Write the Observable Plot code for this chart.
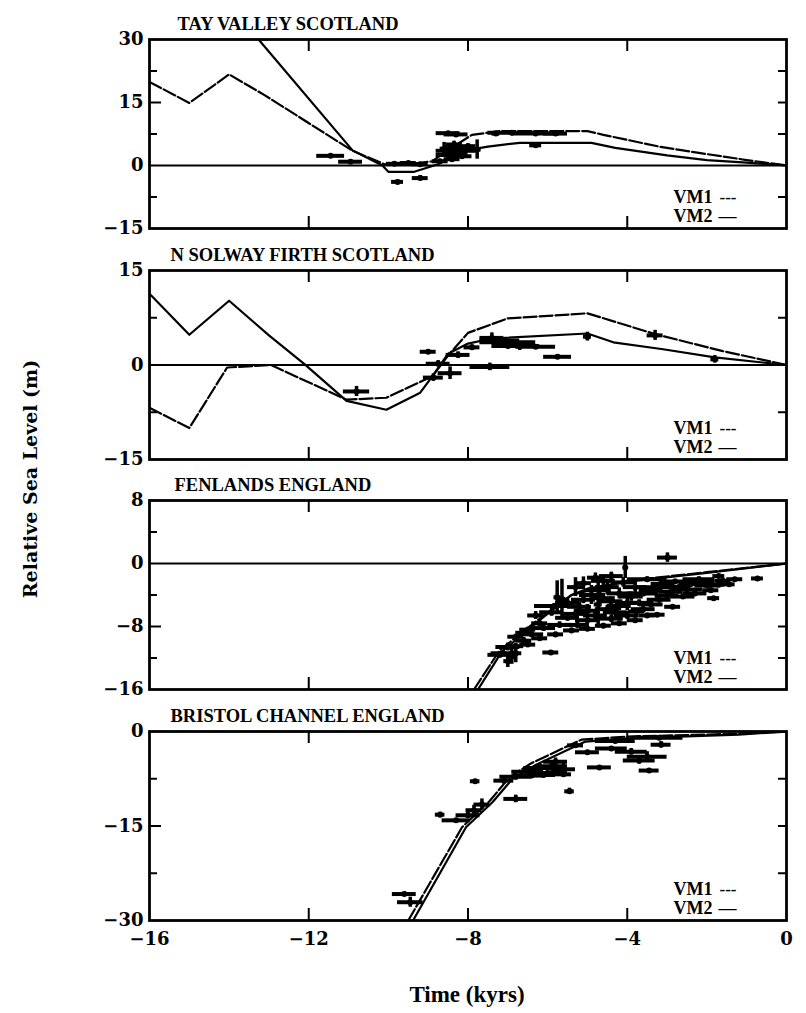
<!DOCTYPE html>
<html>
<head>
<meta charset="utf-8">
<script src="https://cdn.jsdelivr.net/npm/d3@7"></script>
<script src="https://cdn.jsdelivr.net/npm/@observablehq/plot@0.6"></script>
<style>
  html, body { margin: 0; padding: 0; background: #fff; }
  #wrap { position: relative; width: 806px; height: 1013px; background: #fff; overflow: hidden; }
  .panel { position: absolute; left: 0; }
  .panel svg { overflow: visible; }
  #ylab { position: absolute; left: 30px; top: 479px; transform: translate(-50%, -50%) rotate(-90deg);
          font-family: "DejaVu Serif"; font-weight: bold; font-size: 19px; white-space: nowrap; color: #000; }
  #xlab { position: absolute; left: 467px; top: 995px; transform: translate(-50%, -50%);
          font-family: "Liberation Serif"; font-weight: bold; font-size: 23px; white-space: nowrap; color: #000; }
</style>
</head>
<body>
<div id="wrap">
  <div id="ylab">Relative Sea Level (m)</div>
  <div id="xlab">Time (kyrs)</div>
</div>
<script>
// ---------- data ----------
const xTickLabels = [-16, -12, -8, -4, 0];
const xInnerTicks = [-12, -8, -4];

// Panel 1: Tay Valley
const tayTitle = "TAY VALLEY SCOTLAND";
const tayDomain = [-15, 30];
const tayLabels = [30, 15, 0, -15];
const tayMajor = [15];
const tayMinor = [22.5, 7.5, -7.5];
const tayVM1T = [-16, -15, -14, -13.1, -10.9, -10.1, -9.3, -8.9, -8.5, -7.9, -7.2, -5.0, -4.6, -3.2, -2.2, -1.0, 0];
const tayVM1V = [19.9, 14.9, 21.7, 16.7, 3.5, 0.3, 0.5, 1.0, 3.7, 7.3, 8.2, 8.2, 7.3, 4.5, 3.0, 1.3, 0];
const tayVM2T = [-13.26, -10.9, -10.15, -10.0, -9.35, -8.75, -8.25, -7.5, -6.7, -4.9, -4.3, -3.0, -2.0, -1.0, 0];
const tayVM2V = [30, 3.6, 0, -1.5, -1.5, 0.3, 3.3, 4.5, 5.4, 5.4, 4.2, 2.4, 1.3, 0.7, 0];
// observations: [time, level, half-width time, half-height level]
const tayObs = [
  [-11.45, 2.3, 0.35, 0.3], [-10.95, 0.9, 0.3, 0.3], [-9.77, -3.9, 0.15, 0.4], [-9.2, -3.0, 0.2, 0.6],
  [-9.85, 0.4, 0.2, 0.3], [-9.5, 0.6, 0.2, 0.3], [-9.2, 0.3, 0.2, 0.3], [-8.5, 7.7, 0.3, 0.3],
  [-8.3, 7.4, 0.3, 0.3], [-8.6, 4.0, 0.1, 1.5], [-8.5, 2.5, 0.3, 0.8], [-8.3, 3.0, 0.3, 0.8],
  [-8.2, 4.2, 0.3, 1.2], [-8.1, 3.5, 0.3, 0.7], [-8.0, 4.6, 0.2, 0.6], [-8.4, 1.5, 0.2, 0.6],
  [-7.77, 3.8, 0.1, 2.3], [-7.3, 7.6, 0.1, 0.4], [-6.9, 7.8, 0.6, 0.3], [-6.3, 7.6, 0.6, 0.3],
  [-5.8, 7.6, 0.3, 0.3], [-6.3, 4.8, 0.15, 0.5], [-8.7, 1.0, 0.2, 0.4], [-8.55, 3.5, 0.25, 1.0],
  [-8.35, 5.0, 0.2, 0.8], [-8.15, 2.2, 0.25, 0.6]
];

// Panel 2: N Solway Firth
const solTitle = "N SOLWAY FIRTH SCOTLAND";
const solDomain = [-15, 15];
const solLabels = [15, 0, -15];
const solMajor = [];
const solMinor = [7.5, -7.5];
const solVM1T = [-16, -15, -14.05, -12.95, -11.05, -10.05, -8.9, -8.5, -8.0, -7.0, -5.0, -3.3, -1.6, 0];
const solVM1V = [-6.8, -10, -0.4, 0, -5.5, -5.2, -1.8, 1.5, 5.1, 7.4, 8.2, 4.9, 2.2, 0];
const solVM2T = [-16, -15, -14, -13, -12.1, -11.05, -10.05, -9.2, -8.85, -8.5, -8.0, -7.4, -5.0, -4.35, -3.1, -1.8, -0.6, 0];
const solVM2V = [11.3, 4.8, 10.2, 4.7, 0.1, -5.7, -7.1, -4.4, -1.4, 1.8, 3.4, 4.2, 5.0, 3.6, 2.5, 1.2, 0.4, 0];
const solObs = [
  [-10.8, -4.2, 0.33, 0.8], [-9.0, 2.1, 0.2, 0.2], [-8.87, -2.0, 0.25, 0.6], [-8.75, 0.2, 0.3, 0.5],
  [-8.45, -1.3, 0.3, 1.0], [-8.25, 1.6, 0.3, 0.5], [-7.9, 2.8, 0.2, 0.4], [-7.4, 4.3, 0.3, 0.8],
  [-7.2, 3.9, 0.5, 0.5], [-7.0, 3.0, 0.4, 0.4], [-6.7, 3.0, 0.5, 0.7], [-6.3, 2.9, 0.5, 0.3],
  [-5.75, 1.3, 0.35, 0.2], [-7.45, -0.3, 0.5, 0.6], [-5.0, 4.5, 0.1, 0.7], [-3.3, 4.7, 0.2, 0.8],
  [-1.8, 0.9, 0.1, 0.6], [-7.0, 3.6, 0.7, 0.3]
];

// Panel 3: Fenlands
const fenTitle = "FENLANDS ENGLAND";
const fenDomain = [-16, 8];
const fenLabels = [8, 0, -8, -16];
const fenMajor = [-8];
const fenMinor = [4, -4, -12];
const fenVM1T = [-7.85, -7.2, -6.2, -5.4, -4.0, -2.0, 0];
const fenVM1V = [-16, -11.0, -7.0, -4.0, -2.2, -1.1, 0];
const fenVM2T = [-7.75, -7.15, -6.2, -5.4, -5.0, -4.0, -2.0, 0];
const fenVM2V = [-16, -11.2, -7.2, -4.0, -3.2, -2.3, -1.2, 0];
const fenObs = [
  [-2.99, 0.75, 0.25, 0.6], [-0.73, -1.9, 0.15, 0.2], [-1.7, -1.6, 0.15, 0.2], [-1.7, -2.7, 0.15, 0.2],
  [-1.44, -2.65, 0.15, 0.2], [-1.83, -4.4, 0.15, 0.2], [-2.86, -5.5, 0.2, 0.2], [-3.25, -6.5, 0.2, 0.2],
  [-3.77, -6.1, 0.2, 0.2], [-5.92, -11.3, 0.2, 0.2], [-6.8, -11.4, 0.15, 1.2], [-7.12, -11.4, 0.3, 0.3],
  [-6.8, -10.5, 0.2, 0.3], [-5.64, -4.5, 0.1, 2.5], [-5.83, -5.4, 0.5, 0.3], [-5.5, -6.9, 0.3, 0.4],
  [-5.25, -7.8, 0.3, 0.4], [-4.73, -5.2, 0.1, 3.0], [-4.41, -4.8, 0.3, 0.5], [-4.05, -0.5, 0.05, 1.4],
  [-3.5, -2.0, 0.5, 0.3], [-2.8, -2.3, 0.4, 0.3], [-2.2, -2.0, 0.4, 0.3], [-3.2, -3.0, 0.5, 0.3],
  [-2.5, -3.3, 0.4, 0.3], [-2.0, -2.8, 0.3, 0.3], [-3.6, -3.8, 0.4, 0.4], [-3.0, -4.1, 0.3, 0.3],
  [-6.5, -10.3, 0.2, 0.3], [-6.2, -9.5, 0.2, 0.3], [-5.8, -9.0, 0.2, 0.3], [-5.4, -8.5, 0.2, 0.3],
  [-5.0, -8.3, 0.2, 0.3], [-4.6, -7.9, 0.2, 0.3], [-4.2, -7.6, 0.2, 0.3], [-3.8, -7.2, 0.2, 0.3],
  [-3.5, -6.6, 0.2, 0.3], [-6.8, -9.3, 0.2, 0.3], [-6.5, -8.4, 0.2, 0.3], [-6.2, -7.6, 0.2, 0.3],
  [-5.76, -4.3, 0.08, 2.1], [-5.0, -6.0, 0.3, 0.8], [-4.9, -4.0, 0.3, 1.2], [-4.5, -3.0, 0.3, 1.0],
  [-4.3, -6.2, 0.3, 0.8], [-4.0, -5.0, 0.3, 1.0], [-3.8, -3.0, 0.3, 0.8], [-4.6, -2.2, 0.3, 0.6],
  [-5.2, -5.5, 0.3, 0.6], [-4.2, -3.8, 0.3, 0.7], [-3.4, -5.2, 0.3, 0.4], [-2.6, -4.2, 0.3, 0.3],
  [-2.3, -3.8, 0.3, 0.3], [-1.9, -3.4, 0.2, 0.3], [-6.9, -11.8, 0.1, 1.0],
  [-5.9, -6.2, 0.3, 0.5], [-6.1, -8.2, 0.3, 0.4], [-6.4, -9.0, 0.3, 0.4], [-6.6, -9.8, 0.2, 0.4],
  [-7.0, -10.6, 0.3, 0.5], [-7.2, -11.6, 0.3, 0.4], [-7.0, -12.4, 0.1, 0.8], [-5.3, -3.0, 0.2, 1.2],
  [-5.1, -2.5, 0.2, 0.8], [-4.8, -1.8, 0.2, 0.6], [-4.4, -1.6, 0.3, 0.5], [-4.1, -2.4, 0.3, 0.6],
  [-3.9, -4.2, 0.3, 0.6], [-4.6, -4.4, 0.3, 0.6], [-4.8, -6.6, 0.3, 0.6], [-4.4, -7.0, 0.3, 0.5],
  [-4.0, -6.6, 0.3, 0.5], [-3.6, -5.8, 0.3, 0.5], [-3.2, -4.6, 0.3, 0.4], [-2.9, -3.6, 0.3, 0.3],
  [-2.4, -2.6, 0.3, 0.3], [-1.6, -2.2, 0.2, 0.2], [-5.5, -5.0, 0.3, 0.6], [-5.3, -6.4, 0.3, 0.6],
  [-5.7, -7.8, 0.3, 0.4], [-6.3, -6.6, 0.2, 0.5], [-5.1, -4.6, 0.3, 0.5], [-4.7, -3.4, 0.3, 0.6],
  [-4.2, -5.4, 0.3, 0.6], [-3.7, -5.0, 0.3, 0.4], [-3.4, -3.4, 0.3, 0.4], [-3.1, -2.6, 0.3, 0.3],
  [-2.7, -3.0, 0.3, 0.3], [-5.0, -7.2, 0.3, 0.4], [-4.5, -5.8, 0.3, 0.5], [-6.6, -8.8, 0.2, 0.4],
  [-1.3, -2.0, 0.2, 0.2], [-2.1, -2.4, 0.3, 0.2]
];

// Panel 4: Bristol Channel
const briTitle = "BRISTOL CHANNEL ENGLAND";
const briDomain = [-30, 0];
const briLabels = [0, -15, -30];
const briMajor = [-15];
const briMinor = [-7.5, -22.5];
const briVM1T = [-9.5, -8.15, -7.45, -6.95, -6.4, -5.15, -4.0, -1.2, 0];
const briVM1V = [-30, -15.2, -11.0, -7.2, -5.0, -1.3, -0.8, -0.35, 0];
const briVM2T = [-9.38, -8.05, -7.38, -6.88, -6.3, -5.05, -4.0, -1.2, 0];
const briVM2V = [-30, -15.2, -11.2, -7.5, -5.3, -1.6, -1.1, -0.5, 0];
const briObs = [
  [-9.6, -25.8, 0.3, 0.3], [-9.45, -27.1, 0.32, 0.8], [-8.7, -13.2, 0.12, 0.4], [-7.82, -7.9, 0.12, 0.3],
  [-8.3, -14.1, 0.35, 0.3], [-8.0, -13.3, 0.3, 0.5], [-7.85, -12.5, 0.2, 0.8], [-7.65, -11.6, 0.2, 0.9],
  [-6.8, -10.7, 0.3, 0.6], [-5.45, -9.5, 0.12, 0.5], [-7.1, -7.8, 0.25, 0.5], [-6.8, -7.2, 0.4, 0.5],
  [-6.5, -6.4, 0.4, 0.5], [-6.2, -5.8, 0.4, 0.7], [-5.9, -5.5, 0.4, 0.8], [-5.6, -6.0, 0.3, 1.0],
  [-6.0, -6.6, 0.5, 0.4], [-6.4, -7.0, 0.3, 0.4], [-5.0, -3.3, 0.3, 0.3], [-4.7, -5.7, 0.3, 0.3],
  [-4.4, -2.7, 0.4, 0.3], [-3.9, -3.2, 0.4, 0.5], [-3.5, -4.0, 0.5, 0.8], [-3.45, -6.2, 0.25, 0.3],
  [-3.15, -2.1, 0.25, 0.5], [-3.7, -4.6, 0.4, 0.6], [-4.3, -1.5, 0.5, 0.2], [-3.2, -1.0, 0.6, 0.2],
  [-5.3, -2.2, 0.2, 0.3], [-5.8, -4.8, 0.3, 0.6], [-6.1, -6.9, 0.3, 0.4], [-5.6, -6.8, 0.2, 0.5]
];

// ---------- drawing ----------
const W = 806, ML = 149, MR = 20, MT = 39, IH = 189;
const IW = W - ML - MR;
const FONT = "DejaVu Serif";
const TFONT = "Liberation Serif";

function panel({svgTop, title, titleDx, domain, labels, major, minor, vm1T, vm1V, vm2T, vm2V, obs, zeroLine, xAxis}) {
  const vm1 = vm1T.map((t, i) => ({t, v: vm1V[i]}));
  const vm2 = vm2T.map((t, i) => ({t, v: vm2V[i]}));
  const pts = obs.map(([t, v, dt, dv]) => ({t, v, dt, dv}));
  const MB = xAxis ? 45 : 2;
  const marks = [
    // observations (error crosses)
    Plot.ruleY(pts, {y: "v", x1: d => d.t - d.dt, x2: d => d.t + d.dt, stroke: "#000", strokeWidth: 4, clip: true}),
    Plot.ruleX(pts, {x: "t", y1: d => d.v - d.dv, y2: d => d.v + d.dv, stroke: "#000", strokeWidth: 3.5, clip: true}),
    Plot.dot(pts, {x: "t", y: "v", r: 3, fill: "#000", clip: true}),
    // model curves
    Plot.line(vm1, {x: "t", y: "v", stroke: "#000", strokeWidth: 2.2, strokeDasharray: "13,3", clip: true}),
    Plot.line(vm2, {x: "t", y: "v", stroke: "#000", strokeWidth: 2.2, clip: true}),
    // inward ticks
    Plot.tickY(minor, {y: d => d, insetRight: IW - 8, strokeWidth: 2}),
    Plot.tickY(major, {y: d => d, insetRight: IW - 12, strokeWidth: 2}),
    Plot.tickY(minor.concat(major), {y: d => d, insetLeft: IW - 8, strokeWidth: 2}),
    Plot.tickX(xInnerTicks, {x: d => d, insetBottom: IH - 12, strokeWidth: 2}),
    Plot.tickX(xInnerTicks, {x: d => d, insetTop: IH - 12, strokeWidth: 2}),
    // axis labels
    Plot.axisY({ticks: labels, tickSize: 0, tickPadding: 6, fontSize: 18, fontWeight: "bold", label: null}),
    xAxis ? Plot.axisX({ticks: xTickLabels, tickSize: 0, tickPadding: 12, fontSize: 18, fontWeight: "bold", label: null}) : Plot.axisX({ticks: [], label: null}),
    // title and legend
    Plot.text([title], {frameAnchor: "top-left", dx: titleDx, dy: -15, textAnchor: "start", lineAnchor: "middle",
                        fontFamily: TFONT, fontWeight: "bold", fontSize: 18.5}),
    Plot.text(["VM1"], {frameAnchor: "bottom-right", dx: -74, dy: -31, textAnchor: "end", lineAnchor: "middle",
                        fontFamily: TFONT, fontWeight: "bold", fontSize: 18}),
    Plot.text(["VM2"], {frameAnchor: "bottom-right", dx: -74, dy: -12, textAnchor: "end", lineAnchor: "middle",
                        fontFamily: TFONT, fontWeight: "bold", fontSize: 18}),
    Plot.text(["---"], {frameAnchor: "bottom-right", dx: -67, dy: -31, textAnchor: "start", lineAnchor: "middle",
                        fontFamily: TFONT, fontWeight: "bold", fontSize: 17}),
    Plot.text(["\u2014"], {frameAnchor: "bottom-right", dx: -68, dy: -12, textAnchor: "start", lineAnchor: "middle",
                        fontFamily: TFONT, fontWeight: "bold", fontSize: 18}),
    Plot.frame({stroke: "#000", strokeWidth: 2.8})
  ];
  if (zeroLine) marks.splice(0, 0, Plot.ruleY([0], {stroke: "#000", strokeWidth: 1.8}));
  const chart = Plot.plot({
    width: W,
    height: MT + IH + MB,
    marginLeft: ML, marginRight: MR, marginTop: MT, marginBottom: MB,
    style: {fontFamily: FONT, fontWeight: "bold", fontSize: "18px", color: "#000", background: "transparent", overflow: "visible"},
    x: {domain: [-16, 0]},
    y: {domain},
    marks
  });
  const div = document.createElement("div");
  div.className = "panel";
  div.style.top = svgTop + "px";
  div.appendChild(chart);
  document.getElementById("wrap").appendChild(div);
}

panel({svgTop: 0, title: tayTitle, titleDx: 28, domain: tayDomain, labels: tayLabels, major: tayMajor, minor: tayMinor,
       vm1T: tayVM1T, vm1V: tayVM1V, vm2T: tayVM2T, vm2V: tayVM2V, obs: tayObs, zeroLine: true, xAxis: false});
panel({svgTop: 231, title: solTitle, titleDx: 21, domain: solDomain, labels: solLabels, major: solMajor, minor: solMinor,
       vm1T: solVM1T, vm1V: solVM1V, vm2T: solVM2T, vm2V: solVM2V, obs: solObs, zeroLine: true, xAxis: false});
panel({svgTop: 461, title: fenTitle, titleDx: 25, domain: fenDomain, labels: fenLabels, major: fenMajor, minor: fenMinor,
       vm1T: fenVM1T, vm1V: fenVM1V, vm2T: fenVM2T, vm2V: fenVM2V, obs: fenObs, zeroLine: true, xAxis: false});
panel({svgTop: 692, title: briTitle, titleDx: 21, domain: briDomain, labels: briLabels, major: briMajor, minor: briMinor,
       vm1T: briVM1T, vm1V: briVM1V, vm2T: briVM2T, vm2V: briVM2V, obs: briObs, zeroLine: false, xAxis: true});
</script>
</body>
</html>
